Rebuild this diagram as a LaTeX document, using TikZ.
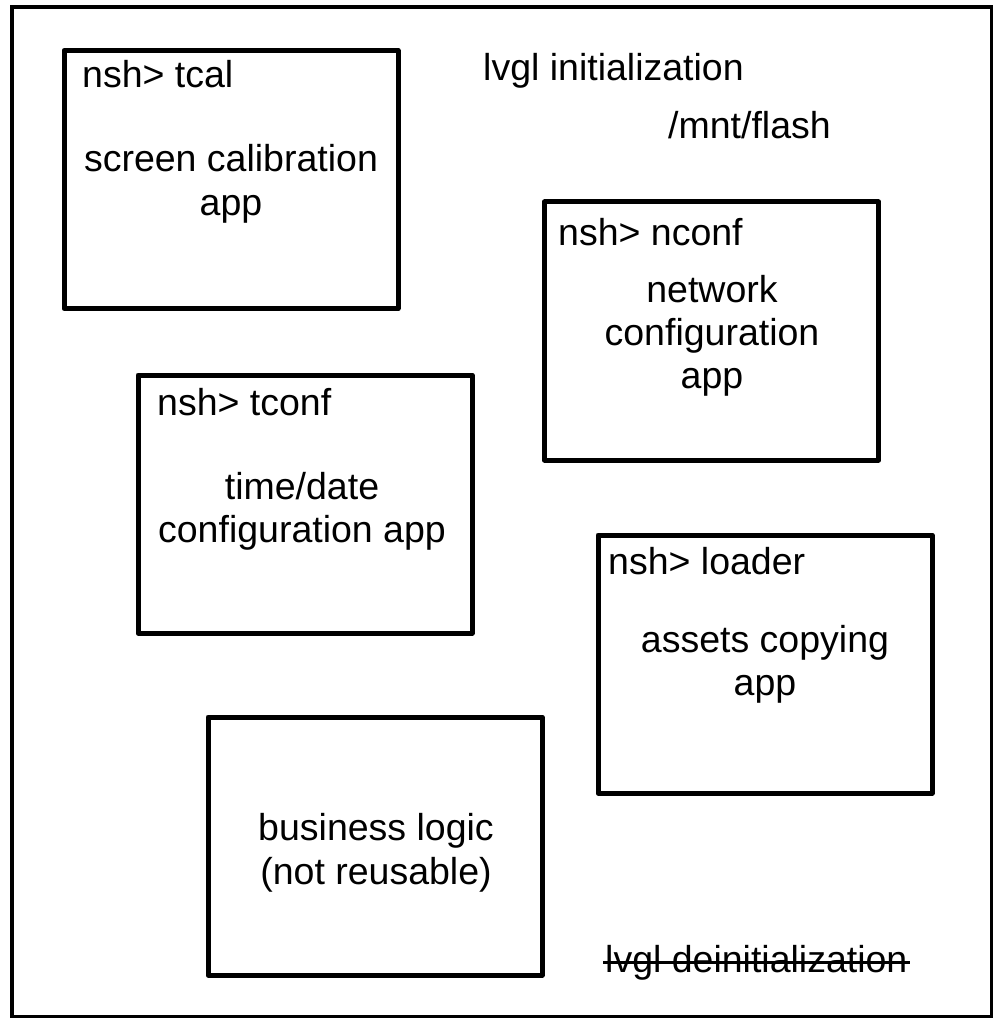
\documentclass[tikz,border=0pt]{standalone}
\usepackage{fontspec}
\setmainfont{Liberation Sans}
\begin{document}
\begin{tikzpicture}[x=1pt,y=-1pt,
  appbox/.style={draw=black,line width=5pt,line join=round,rectangle,minimum width=334pt,minimum height=258pt,inner sep=0pt},
  txt/.style={inner sep=0pt,font=\fontsize{37.5}{43}\selectfont},
  lbl/.style={txt,anchor=base west},
  ctr/.style={txt,anchor=base}]
\useasboundingbox[fill=white] (0,0) rectangle (1000,1024);
\draw[line width=3.5pt] (12,7) rectangle (991.5,1016.5);

\node[appbox] (tcal) at (231,179.5) {};
\node[appbox] (nconf) at (711.5,331) {};
\node[appbox] (tconf) at (305,504) {};
\node[appbox] (loader) at (765,664) {};
\node[appbox] (biz) at (375,846) {};

\node[lbl] (tcalcmd) at (82,88) {nsh> tcal};
\node[ctr] (tcal1) at (231,172) {screen calibration};
\node[ctr] (tcal2) at (231,215) {app};

\node[lbl] (nconfcmd) at (558,245) {nsh> nconf};
\node[ctr] (nconf1) at (712,302) {network};
\node[ctr] (nconf2) at (712,345) {configuration};
\node[ctr] (nconf3) at (712,388) {app};

\node[lbl] (tconfcmd) at (157,415) {nsh> tconf};
\node[ctr] (tconf1) at (302,499) {time/date};
\node[ctr] (tconf2) at (302,542) {configuration app};

\node[lbl] (loadercmd) at (608,574) {nsh> loader};
\node[ctr] (loader1) at (765,652) {assets copying};
\node[ctr] (loader2) at (765,695) {app};

\node[ctr] (biz1) at (376,840) {business logic};
\node[ctr] (biz2) at (376,884) {(not reusable)};

\node[lbl] (init) at (483,81) {lvgl initialization};
\node[lbl] (flash) at (668,139) {/mnt/flash};
\node[lbl] (deinit) at (605,972) {lvgl deinitialization};
\draw[line width=3pt] ([xshift=-2pt,yshift=10pt]deinit.base west) -- ([xshift=2pt,yshift=10pt]deinit.base east);
\end{tikzpicture}
\end{document}
